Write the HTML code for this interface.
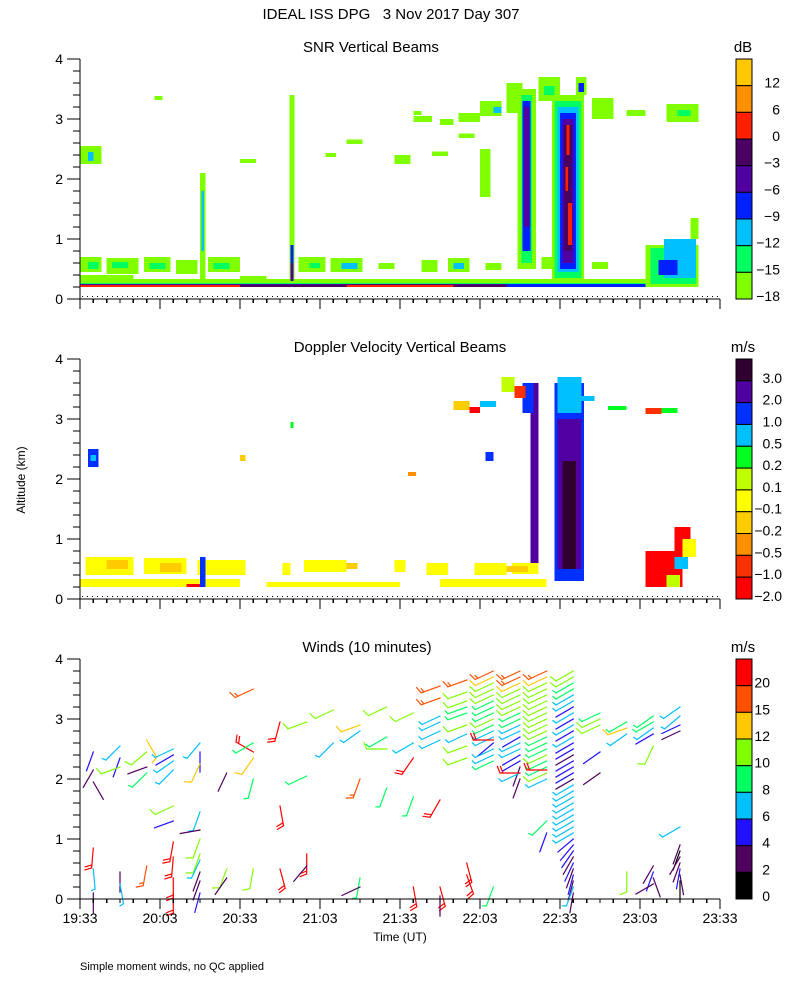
<!DOCTYPE html>
<html><head><meta charset="utf-8"><title>IDEAL ISS DPG profiler</title>
<style>
html,body{margin:0;padding:0;background:#fff;}
svg{display:block;font-family:"Liberation Sans",sans-serif;}
text{fill:#000;}
</style></head>
<body>
<svg id="chart" width="800" height="1000" viewBox="0 0 800 1000" xmlns="http://www.w3.org/2000/svg">
<rect x="0" y="0" width="800" height="1000" fill="#fff"/>
<text x="391" y="19" font-size="15" text-anchor="middle">IDEAL ISS DPG &#160;&#160;3 Nov 2017 Day 307</text>
<text x="371" y="52" font-size="15" text-anchor="middle">SNR Vertical Beams</text>
<text x="400" y="352" font-size="15" text-anchor="middle">Doppler Velocity Vertical Beams</text>
<text x="367" y="652" font-size="15" text-anchor="middle">Winds (10 minutes)</text>
<text x="743" y="52" font-size="15" text-anchor="middle">dB</text>
<text x="743" y="352" font-size="15" text-anchor="middle">m/s</text>
<text x="743" y="652" font-size="15" text-anchor="middle">m/s</text>
<text x="25" y="480" font-size="12" text-anchor="middle" transform="rotate(-90 25 480)">Altitude (km)</text>
<text x="400" y="941" font-size="12" text-anchor="middle">Time (UT)</text>
<text x="80" y="970" font-size="11">Simple moment winds, no QC applied</text>
<g id="layers"></g>
</svg>
<script>
// ---- data ----
const timeTickLabels = ["19:33","20:03","20:33","21:03","21:33","22:03","22:33","23:03","23:33"];
const altTickLabels = ["0","1","2","3","4"];
const snrLegendLabels = ["12","6","0","\u22123","\u22126","\u22129","\u221212","\u221215","\u221218"];
const snrColors = ["#80ff00","#00ff60","#00c0ff","#0020ff","#5000a0","#4a0060","#ff2000","#ff9000","#ffc800"];
const dopLegendLabels = ["3.0","2.0","1.0","0.5","0.2","0.1","\u22120.1","\u22120.2","\u22120.5","\u22121.0","\u22122.0"];
const dopColors = ["#ff0000","#ff3000","#ff9000","#ffcc00","#ffff00","#c0ff00","#00ff20","#00c0ff","#0030ff","#5000a0","#300030"];
const windLegendLabels = ["20","15","12","10","8","6","4","2","0"];
const windColors = ["#000000","#500060","#2010ff","#00c0ff","#00ff60","#80ff00","#ffc800","#ff5000","#ff0000"];
const windBins = [0,2,4,6,8,10,12,15,20];
// SNR patches: [t0 min, t1 min, z0 km, z1 km, level]
const snrPatches = [
[0,232,0.2,0.33,0],[0,232,0.2,0.27,1],[0,160,0.2,0.25,4],[0,60,0.2,0.23,6],[60,90,0.2,0.23,5],[90,160,0.2,0.24,5],[160,232,0.2,0.25,3],[100,140,0.2,0.23,6],
[0,20,0.33,0.4,0],[60,70,0.33,0.38,0],
[0,8,0.45,0.7,0],[10,22,0.42,0.68,0],[24,34,0.45,0.7,0],[36,44,0.42,0.65,0],[48,60,0.45,0.7,0],[3,7,0.5,0.62,1],[12,18,0.52,0.62,1],[26,32,0.5,0.6,1],[50,56,0.5,0.6,1],
[82,92,0.45,0.7,0],[94,106,0.45,0.68,0],[86,90,0.52,0.6,1],[98,104,0.5,0.6,2],[112,118,0.5,0.6,0],[128,134,0.45,0.65,0],[138,146,0.45,0.68,0],[140,144,0.5,0.6,2],[152,158,0.48,0.6,0],[173,178,0.5,0.7,0],[192,198,0.5,0.62,0],
[45,47,0.3,2.1,0],[45.5,46.5,0.8,1.8,2],[78.5,80.5,0.3,3.4,0],[79,80,0.3,0.9,3],[79,80,0.3,0.6,4],
[0,8,2.25,2.55,0],[3,5,2.3,2.45,2],[60,66,2.27,2.33,0],[92,96,2.37,2.43,0],[100,106,2.58,2.66,0],[118,124,2.25,2.4,0],[132,138,2.38,2.46,0],[142,148,2.68,2.76,0],[125,128,3.07,3.13,0],[28,31,3.32,3.38,0],[150,154,1.7,2.5,0],
[125,132,2.95,3.05,0],[135,140,2.9,3.0,0],[142,150,2.95,3.1,0],[150,158,3.05,3.3,0],[155,158,3.1,3.2,2],[160,166,3.1,3.6,0],[172,180,3.3,3.7,0],[174,178,3.4,3.55,1],[186,190,3.4,3.7,0],[187,189,3.45,3.6,3],[192,200,3.0,3.35,0],[205,212,3.05,3.15,0],[220,232,2.95,3.25,0],[224,229,3.05,3.15,1],
[164,171,0.5,3.5,0],[165.5,169.5,0.6,3.4,1],[166,169,0.8,3.3,3],[166.5,168.5,1.2,3.2,4],
[177,189,0.3,3.4,0],[178,188,0.35,3.3,1],[179,187,0.45,3.2,2],[180,186,0.5,3.1,3],[181,185,0.6,3.0,4],[181.5,184.5,0.8,2.9,5],[182.5,183.5,2.4,2.9,6],[183,184.5,0.9,1.6,6],[182,183,1.8,2.2,6],
[212,232,0.2,0.9,0],[214,231,0.25,0.85,1],[219,231,0.35,1.0,2],[217,224,0.4,0.65,3],[229,232,1.0,1.35,0]
];
// Doppler patches: [t0, t1, z0, z1, level]
const dopPatches = [
[0,60,0.2,0.33,4],[70,120,0.2,0.28,4],[40,45,0.2,0.25,0],[135,175,0.2,0.33,4],
[2,20,0.4,0.7,4],[24,40,0.42,0.68,4],[44,62,0.4,0.65,4],[10,18,0.5,0.65,3],[30,38,0.45,0.6,3],[45,47,0.2,0.7,8],[76,79,0.4,0.6,4],[84,100,0.45,0.65,4],[100,104,0.5,0.6,3],[118,122,0.45,0.65,4],[130,138,0.4,0.6,4],[148,160,0.4,0.6,4],[162,172,0.42,0.6,4],[160,168,0.45,0.55,3],
[3,7,2.2,2.5,8],[4,6,2.3,2.4,7],[60,62,2.3,2.4,3],[79,80,2.85,2.95,6],[123,126,2.05,2.12,2],
[169,172,0.6,3.6,9],[166,170,3.1,3.6,8],[152,155,2.3,2.45,8],
[178,189,0.3,3.6,8],[179,188,0.5,3.0,9],[181,186,0.5,2.3,10],[179,188,3.1,3.7,7],
[140,146,3.15,3.3,3],[146,150,3.1,3.2,0],[150,156,3.2,3.3,7],[158,163,3.45,3.7,5],[163,167,3.35,3.55,1],[188,193,3.3,3.38,7],[198,205,3.15,3.22,6],[212,218,3.08,3.18,1],[218,224,3.1,3.18,6],
[212,226,0.2,0.8,0],[223,229,0.8,1.2,0],[223,228,0.5,0.7,7],[226,231,0.7,1.0,4],[220,225,0.2,0.4,5]
];
// Wind barbs: [t min, z km, speed m/s, staff direction deg (0=up,clockwise)]
const windBarbs = [
[5,2.45,4,200],[5,2.15,2,210],[5,1.95,2,150],[5,0.85,22,185],[5,0.5,7,175],[5,0.1,2,180],
[15,2.55,6,225],[15,2.35,4,200],[15,2.2,10,250],[15,0.45,3,180],[15,0.25,7,170],
[25,2.65,12,150],[25,2.45,10,230],[25,2.2,3,250],[25,2.1,8,225],[25,0.55,15,190],
[35,2.5,6,245],[35,2.4,4,240],[35,2.3,6,235],[35,2.15,6,225],[35,1.55,10,245],[35,1.3,4,250],[35,0.95,20,190],[35,0.7,20,185],[35,0.35,20,180],[35,0.1,20,180],
[45,2.6,6,220],[45,2.45,4,180],[45,2.25,12,205],[45,1.45,6,200],[45,1.15,3,260],[45,1.0,10,200],[45,0.75,10,200],[45,0.65,6,205],[45,0.45,3,200],[45,0.3,2,200],[45,0.1,4,195],
[55,2.1,2,205],[55,0.5,10,200],[55,0.35,2,215],
[65,3.5,15,245],[65,2.45,20,300],[65,2.6,8,240],[65,2.35,12,215],[65,2.0,8,195],[65,0.5,10,190],
[75,2.95,20,195],[75,1.55,20,170],[75,0.5,20,165],
[85,2.95,10,250],[85,2.05,8,245],[85,0.75,20,180],[85,0.55,2,220],
[95,3.15,10,245],[95,2.6,6,225],
[105,2.9,12,250],[105,2.8,6,235],[105,2.0,15,200],[105,0.35,8,190],[105,0.2,2,245],
[115,3.2,10,245],[115,2.7,8,240],[115,2.5,10,270],[115,1.85,8,200],
[125,3.1,10,245],[125,2.6,6,240],[125,2.35,20,215],[125,1.7,8,200],[125,0.2,20,170],
[135,3.55,15,250],[135,3.35,15,250],[135,3.05,6,245],[135,2.95,6,245],[135,2.8,6,245],[135,2.65,6,245],[135,1.65,20,210],[135,0.2,20,165],[135,0.05,2,180],
[145,3.65,15,250],[145,3.45,10,250],[145,3.3,10,250],[145,3.2,8,250],[145,3.1,8,250],[145,2.9,10,250],[145,2.75,6,245],[145,2.55,10,250],[145,2.35,10,250],[145,0.6,20,165],[145,0.4,20,160],
[155,3.8,15,245],[155,3.7,12,245],[155,3.6,10,245],[155,3.5,10,245],[155,3.4,10,245],[155,3.3,8,245],[155,3.2,8,245],[155,3.1,8,245],[155,3.0,10,245],[155,2.9,8,245],[155,2.8,6,245],[155,2.7,6,245],[155,2.6,4,230],[155,2.5,6,245],[155,2.4,6,245],[155,2.3,8,245],[155,2.65,20,270],[155,0.2,8,200],
[165,3.8,15,245],[165,3.7,15,245],[165,3.6,12,245],[165,3.5,10,245],[165,3.4,10,245],[165,3.3,10,245],[165,3.2,10,245],[165,3.1,8,245],[165,3.0,8,245],[165,2.9,6,245],[165,2.8,6,245],[165,2.7,4,240],[165,2.6,6,245],[165,2.5,6,245],[165,2.4,4,240],[165,2.3,4,240],[165,2.2,2,200],[165,2.1,6,245],[165,2.1,20,270],[165,2.0,2,200],
[175,3.8,15,245],[175,3.7,12,245],[175,3.6,10,245],[175,3.5,10,245],[175,3.4,10,245],[175,3.3,10,245],[175,3.2,10,245],[175,3.1,10,245],[175,3.0,10,245],[175,2.9,10,245],[175,2.8,10,245],[175,2.7,8,245],[175,2.6,8,245],[175,2.5,8,245],[175,2.4,10,245],[175,2.3,8,245],[175,2.2,8,245],[175,2.1,10,245],[175,2.0,6,245],[175,2.15,20,270],[175,1.3,8,225],[175,1.1,4,200],
[185,3.8,10,240],[185,3.7,10,240],[185,3.6,8,240],[185,3.5,8,240],[185,3.4,6,240],[185,3.3,6,240],[185,3.2,4,240],[185,3.1,6,240],[185,3.0,4,240],[185,2.9,6,240],[185,2.8,4,240],[185,2.7,6,240],[185,2.6,4,240],[185,2.5,4,240],[185,2.4,2,240],[185,2.3,4,240],[185,2.2,4,240],[185,2.1,4,240],[185,2.0,2,240],[185,1.9,6,240],[185,1.8,6,240],[185,1.7,6,240],[185,1.6,6,240],[185,1.5,6,240],[185,1.4,6,240],[185,1.3,6,240],[185,1.2,6,240],[185,1.1,6,240],[185,1.0,4,230],[185,0.9,4,220],[185,0.8,4,215],[185,0.7,2,210],[185,0.6,4,205],[185,0.5,2,200],[185,0.4,4,195],[185,0.3,2,195],[185,0.2,6,200],[185,0.1,2,190],
[195,3.1,8,245],[195,3.0,10,245],[195,2.9,10,245],[195,2.45,4,235],[195,2.1,2,235],
[205,2.95,8,240],[205,2.85,12,250],[205,2.75,6,235],[205,0.45,10,180],
[215,3.05,8,235],[215,2.95,8,240],[215,2.85,6,235],[215,2.75,4,240],[215,2.55,10,205],[215,0.55,2,210],[215,0.45,4,200],[215,0.35,2,160],[215,0.25,2,240],
[225,3.2,6,235],[225,3.05,6,230],[225,2.9,4,245],[225,2.8,2,245],[225,1.2,6,240],[225,0.9,2,200],[225,0.8,1,200],[225,0.7,2,210],[225,0.6,2,200],[225,0.5,4,190],[225,0.4,2,170],[225,0.3,1,180]
];
// ---- layout ----
const NS = "http://www.w3.org/2000/svg";
const root = document.getElementById("layers");
const X0 = 80, X1 = 720, TSPAN = 240;
const panelTops = [59, 359, 659];
const PH = 240, ZMAX = 4;
function xScale(t){ return X0 + (X1 - X0) * t / TSPAN; }
function yScale(z, p){ return panelTops[p] + PH - PH * z / ZMAX; }
function mk(tag, attrs, parent){
  const e = document.createElementNS(NS, tag);
  for (const k in attrs) e.setAttribute(k, attrs[k]);
  (parent || root).appendChild(e);
  return e;
}
function drawPatches(list, colors, p, nm){
  const g = mk("g", {"shape-rendering":"crispEdges"});
  
  
  list.forEach(function(d){
    const x0 = xScale(d[0]), x1 = xScale(d[1]), y0 = yScale(d[3], p), y1 = yScale(d[2], p);
    const r = mk("rect", {x:x0, y:y0, width:Math.max(1,x1-x0), height:Math.max(1,y1-y0), fill:colors[d[4]]}, g);
    
    
  });
}
function drawAxes(p, withLabels, dotted){
  const top = panelTops[p], bot = top + PH;
  const g = mk("g", {stroke:"#000", "stroke-width":1.2, fill:"none", "shape-rendering":"crispEdges"});
  
  
  mk("line", {x1:X0, y1:top, x2:X0, y2:bot+1}, g);
  mk("line", {x1:X0, y1:bot, x2:X1, y2:bot}, g);
  if (dotted) mk("line", {x1:X0+2, y1:bot-2.5, x2:X1, y2:bot-2.5, "stroke-dasharray":"1.2,3.8", "stroke-width":1.3}, g);
  for (let i = 0; i <= 20; i++) {
    const z = i * 0.2, y = yScale(z, p);
    const major = i % 5 === 0;
    mk("line", {x1: major ? 67 : 73, y1:y, x2:X0, y2:y}, g);
  }
  altTickLabels.forEach(function(lb, i){
    const t = mk("text", {x:63, y:yScale(i, p)+5, "font-size":14, "text-anchor":"end", stroke:"none", fill:"#000"});
    t.textContent = lb;
    
    
  });
  for (let m = 0; m <= 240; m += 5) {
    const x = xScale(m), major = m % 30 === 0;
    mk("line", {x1:x, y1:bot, x2:x, y2:bot + (major ? 10 : 4)}, g);
  }
  if (withLabels) {
    timeTickLabels.forEach(function(lb, i){
      const t = mk("text", {x:xScale(i*30), y:bot+24, "font-size":14, "text-anchor":"middle", stroke:"none", fill:"#000"});
      t.textContent = lb;
      
      
    });
  }
}
function drawColorbar(p, colors, labels, nm, labelX){
  const top = panelTops[p], n = colors.length, h = PH / n;
  const g = mk("g", {});
  
  
  for (let i = 0; i < n; i++) {
    const r = mk("rect", {x:736, y:top + h*i, width:16, height:h, fill:colors[n-1-i], stroke:"#000", "stroke-width":1}, g);
    
    
  }
  labels.forEach(function(lb, i){
    const t = mk("text", {x:labelX, y:top + h*(i+1) + 2, "font-size":14, "text-anchor":"end"}, g);
    t.textContent = lb;
    
    
  });
}
function windColor(s){
  let k = 0;
  for (let i = 0; i < windBins.length; i++) if (s >= windBins[i]) k = i;
  return windColors[k];
}
function drawBarbs(){
  const g = mk("g", {"stroke-width":1.2, fill:"none", "stroke-linecap":"square"});
  
  
  windBarbs.forEach(function(b){
    const bx = xScale(b[0]), by = yScale(b[1], 2);
    const a = b[3] * Math.PI / 180, L = 20;
    const dx = Math.sin(a), dy = -Math.cos(a);
    const ex = bx + dx*L, ey = by + dy*L;
    let d = "M" + bx.toFixed(1) + " " + by.toFixed(1) + "L" + ex.toFixed(1) + " " + ey.toFixed(1);
    const full = Math.floor(b[2] / 10), half = (b[2] % 10) >= 5 ? 1 : 0;
    const ba = a + Math.PI * 0.38;
    const px = Math.sin(ba), py = -Math.cos(ba);
    let k = 0;
    for (let i = 0; i < full + half; i++) {
      const sx = ex - dx*3*k, sy = ey - dy*3*k;
      const len = i < full ? 7 : 4;
      d += "M" + sx.toFixed(1) + " " + sy.toFixed(1) + "l" + (px*len).toFixed(1) + " " + (py*len).toFixed(1);
      k++;
    }
    const pth = mk("path", {d:d, stroke:windColor(b[2])}, g);
    
    
  });
}
drawPatches(snrPatches, snrColors, 0, 'snr');
drawPatches(dopPatches, dopColors, 1, 'doppler');
drawBarbs();
drawAxes(0, false, true);
drawAxes(1, false, true);
drawAxes(2, true, false);
drawColorbar(0, snrColors, snrLegendLabels, 'snr', 780);
drawColorbar(1, dopColors, dopLegendLabels, 'doppler', 782);
drawColorbar(2, windColors, windLegendLabels, 'winds', 770);
</script>
</body></html>
